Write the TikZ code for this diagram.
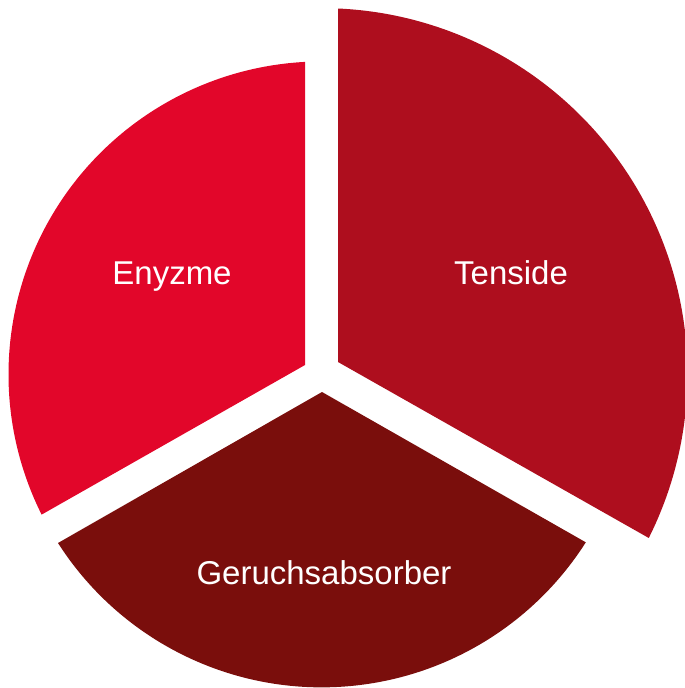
\documentclass[tikz,border=0pt]{standalone}
\usepackage{fontspec}
\setmainfont{Liberation Sans}
\definecolor{enzred}{HTML}{E2062A}
\definecolor{tenred}{HTML}{AE0E1E}
\definecolor{gerred}{HTML}{7A0E0C}
\tikzset{
  slice/.style={draw=none},
  lbl/.style={text=white, font=\fontsize{33}{38}\selectfont, anchor=base, inner sep=0pt}
}
\begin{document}
\begin{tikzpicture}[x=1pt,y=1pt]
\useasboundingbox (0,0) rectangle (685,-688);
\clip (0,0) rectangle (685,-688);
% Enyzme
\fill[slice, enzred] (305,-365) -- (305,-61.9) arc[start angle=93.02, end angle=206.6, radius=313] -- cycle;
% Tenside
\fill[slice, tenred] (338,-362) -- (338,-8.5) arc[start angle=87.42, end angle=-26.6, radius=366] -- cycle;
% Geruchsabsorber
\fill[slice, gerred] (322,-392) -- (58,-543) arc[start angle=212.6, end angle=327.55, radius=313] -- cycle;
\node[lbl] (enz) at (172,-284) {Enyzme};
\node[lbl] (ten) at (511,-284) {Tenside};
\node[lbl] (ger) at (324,-584) {Geruchsabsorber};
\end{tikzpicture}
\end{document}
